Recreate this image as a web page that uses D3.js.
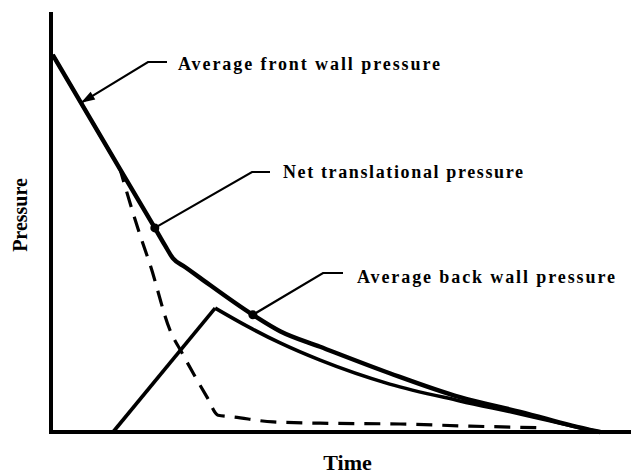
<!DOCTYPE html>
<html>
<head>
<meta charset="utf-8">
<script src="https://cdn.jsdelivr.net/npm/d3@7"></script>
<style>
  html, body { margin: 0; padding: 0; background: #fff; }
  svg { display: block; }
  text { font-family: "Liberation Serif", "Times New Roman", serif; fill: #000; }
</style>
</head>
<body>
<svg id="chart" width="631" height="474"></svg>
<script>
// Pressure-time history on a closed structure (relative units, no tick marks)
// Each point is [time, pressure].
const frontWall = [
  [0.3, 89.8], [11.9, 62.6], [17.9, 48.6], [19.7, 44.3], [21.0, 41.4],
  [23.1, 39.3], [25.7, 36.7], [34.8, 27.9], [39.5, 24.0], [46.4, 20.3],
  [58.4, 14.0], [70.5, 8.3], [80.9, 4.8], [92.9, 0.5], [94.7, 0]
];
const backWall = [
  [10.7, 0], [28.3, 29.5], [33.8, 25.2], [39.5, 21.2], [46.4, 17.1],
  [58.4, 11.4], [70.5, 7.4], [80.9, 4.3], [92.9, 0.5], [94.7, 0]
];
const netTranslational = [
  [0.3, 89.8], [11.9, 62.6], [15.3, 47.1], [17.1, 39.8], [20.5, 24.3],
  [22.6, 18.8], [26.9, 8.3], [28.8, 4.0], [31.4, 3.6], [38.3, 2.4],
  [46.4, 2.1], [60.2, 1.9], [72.2, 1.4], [85.2, 1.0]
];
const labels = ["Average front wall pressure", "Net translational pressure", "Average back wall pressure"];
const axisLabels = { x: "Time", y: "Pressure" };

const svg = d3.select("#chart");
const x = d3.scaleLinear().domain([0, 100]).range([51, 631]);
const y = d3.scaleLinear().domain([0, 100]).range([432, 12]);

const smooth = d3.line().x(d => x(d[0])).y(d => y(d[1])).curve(d3.curveMonotoneX);
const straight = d3.line().x(d => x(d[0])).y(d => y(d[1]));

function curve(data, corner, width) {
  // straight run up to the corner point, smooth curve after it
  [straight(data.slice(0, corner + 1)), smooth(data.slice(corner))].forEach(d => {
    svg.append("path").attr("d", d)
      .attr("fill", "none").attr("stroke", "#000").attr("stroke-width", width)
      .attr("stroke-linejoin", "round");
  });
}

// Net translational pressure (dashed) first, so the solid curves sit on top
svg.append("path")
  .attr("d", straight(netTranslational.slice(0, 2)) + smooth(netTranslational.slice(1)).replace(/^M[^C L]*/, ""))
  .attr("fill", "none").attr("stroke", "#000")
  .attr("stroke-width", 3.2).attr("stroke-dasharray", "16,10");

curve(backWall, 1, 3.6);
curve(frontWall, 2, 4.4);

// Axes (plain lines, no ticks)
svg.append("line").attr("x1", x(0)).attr("x2", x(0)).attr("y1", y(100)).attr("y2", y(0) + 2)
  .attr("stroke", "#000").attr("stroke-width", 4);
svg.append("line").attr("x1", x(0) - 2).attr("x2", x(100)).attr("y1", y(0)).attr("y2", y(0))
  .attr("stroke", "#000").attr("stroke-width", 4);

// Annotation leaders
const px = p => [x(p[0]), y(p[1])];
const frontTarget = d3.interpolateArray(frontWall[0], frontWall[1])(0.42);
const notes = [
  { text: labels[0], target: px(frontTarget), elbow: [148, 62], end: 167, tx: 178, ty: 70, len: 262, mark: "arrow" },
  { text: labels[1], target: px(frontWall[2]), elbow: [252, 172], end: 270, tx: 283, ty: 178, len: 240, mark: "dot" },
  { text: labels[2], target: px(frontWall[7]), elbow: [323, 273], end: 343, tx: 357, ty: 283, len: 258, mark: "dot" }
];

notes.forEach(n => {
  svg.append("polyline")
    .attr("points", [n.target, n.elbow, [n.end, n.elbow[1]]].map(p => p.join(",")).join(" "))
    .attr("fill", "none").attr("stroke", "#000").attr("stroke-width", 2.2);
  if (n.mark === "dot") {
    svg.append("circle").attr("cx", n.target[0]).attr("cy", n.target[1]).attr("r", 4.5).attr("fill", "#000");
  } else {
    const dx = n.elbow[0] - n.target[0], dy = n.elbow[1] - n.target[1];
    const L = Math.hypot(dx, dy), ux = dx / L, uy = dy / L;
    const hl = 14, hw = 4.5;
    const bx = n.target[0] + ux * hl, by = n.target[1] + uy * hl;
    svg.append("polygon")
      .attr("points", [n.target, [bx - uy * hw, by + ux * hw], [bx + uy * hw, by - ux * hw]].map(p => p.join(",")).join(" "))
      .attr("fill", "#000");
  }
  svg.append("text")
    .attr("x", n.tx).attr("y", n.ty)
    .attr("font-size", 18).attr("font-weight", "bold")
    .attr("textLength", n.len).attr("lengthAdjust", "spacing")
    .text(n.text);
});

// Axis titles
svg.append("text")
  .attr("x", 347.5).attr("y", 470)
  .attr("text-anchor", "middle").attr("font-size", 22).attr("font-weight", "bold")
  .text(axisLabels.x);
svg.append("text")
  .attr("transform", "translate(27,215) rotate(-90)")
  .attr("text-anchor", "middle").attr("font-size", 20).attr("font-weight", "bold")
  .text(axisLabels.y);
</script>
</body>
</html>
